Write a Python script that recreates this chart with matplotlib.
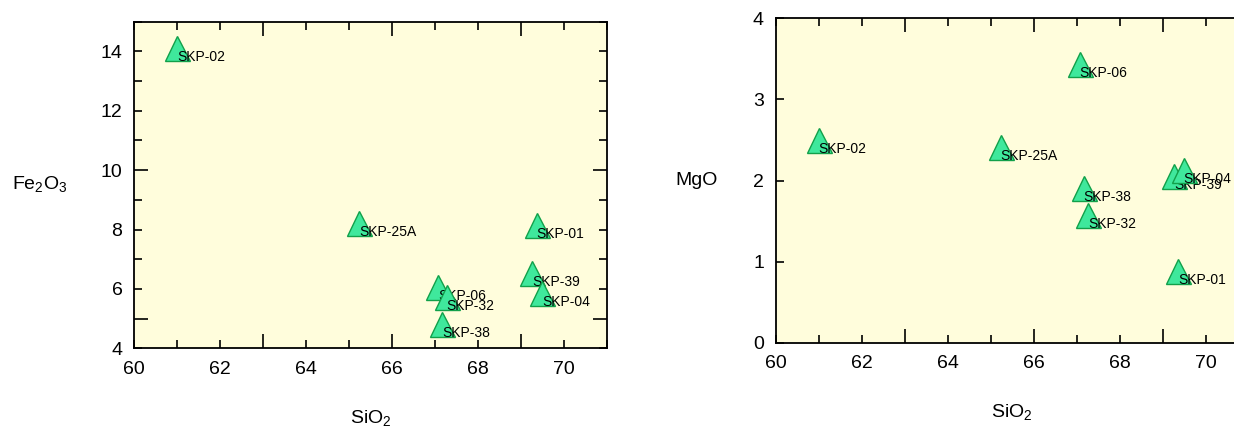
import matplotlib
matplotlib.use('Agg')
import matplotlib.pyplot as plt
from matplotlib.ticker import FixedLocator, MultipleLocator, NullFormatter

plt.rcParams['font.family'] = ['Liberation Sans', 'DejaVu Sans']

samples = ['SKP-02', 'SKP-25A', 'SKP-01', 'SKP-39', 'SKP-04', 'SKP-06', 'SKP-32', 'SKP-38']
sio2 = [61.0, 65.23, 69.36, 69.26, 69.49, 67.07, 67.27, 67.16]
fe2o3 = [14.1, 8.22, 8.16, 6.54, 5.85, 6.07, 5.74, 4.82]
mgo = [2.5, 2.42, 0.89, 2.06, 2.13, 3.44, 1.58, 1.91]

x_labels = [60, 62, 64, 66, 68, 70]
fe_labels = [4, 6, 8, 10, 12, 14]
mg_labels = [0, 1, 2, 3, 4]

fill = '#3FE89C'
edge = '#12A04A'
bg = '#FFFDDC'


def style_axes(ax, ylim, ylabels, ylong, ylabel, ylabel_x):
    ax.set_facecolor(bg)
    ax.set_xlim(60, 71)
    ax.set_ylim(*ylim)
    for s in ax.spines.values():
        s.set_linewidth(1.3)
    # long ticks (unlabelled) and short ticks at every unit
    ax.xaxis.set_major_locator(FixedLocator([63, 66, 69]))
    ax.xaxis.set_minor_locator(MultipleLocator(1))
    ax.yaxis.set_major_locator(FixedLocator(ylong))
    ax.yaxis.set_minor_locator(MultipleLocator(1))
    ax.xaxis.set_major_formatter(NullFormatter())
    ax.yaxis.set_major_formatter(NullFormatter())
    ax.tick_params(which='both', direction='in', top=True, right=True, width=1.2)
    ax.tick_params(which='major', length=10)
    ax.tick_params(which='minor', length=5.5)
    # tick labels via secondary axes, no tick marks
    sx = ax.secondary_xaxis('bottom')
    sx.set_xticks(x_labels)
    sx.tick_params(length=0, pad=9, labelsize=14)
    sx.spines['bottom'].set_visible(False)
    sy = ax.secondary_yaxis('left')
    sy.set_yticks(ylabels)
    sy.tick_params(length=0, pad=8.5, labelsize=14)
    sy.spines['left'].set_visible(False)
    ax.set_xlabel(r'SiO$_\mathregular{2}$', fontsize=14)
    ax.xaxis.set_label_coords(0.5, -0.185)
    ax.set_ylabel(ylabel, fontsize=14, rotation=0, ha='center', va='center')
    ax.yaxis.set_label_coords(ylabel_x, 0.5)


def draw_points(ax, yvals):
    for i, (name, x, y) in enumerate(zip(samples, sio2, yvals)):
        ax.plot(x, y, marker='^', ms=18, mfc=fill, mec=edge, mew=1.0,
                linestyle='none', zorder=3 + 2 * i, clip_on=False)
        ax.annotate(name, (x, y), xytext=(0, -6.5), textcoords='offset points',
                    ha='left', va='center', fontsize=10, zorder=4 + 2 * i)


fig = plt.figure(figsize=(12.34, 4.29), dpi=100)
ax1 = fig.add_axes([0.1088, 0.1881, 0.3831, 0.7613])
ax2 = fig.add_axes([0.6286, 0.2005, 0.3833, 0.7569])

style_axes(ax1, (4, 15), fe_labels, [5, 10], r'Fe$_\mathregular{2}$O$_\mathregular{3}$', -0.2)
style_axes(ax2, (0, 4), mg_labels, [], 'MgO', -0.168)

draw_points(ax1, fe2o3)
draw_points(ax2, mgo)

fig.savefig('out.png', dpi=100)
